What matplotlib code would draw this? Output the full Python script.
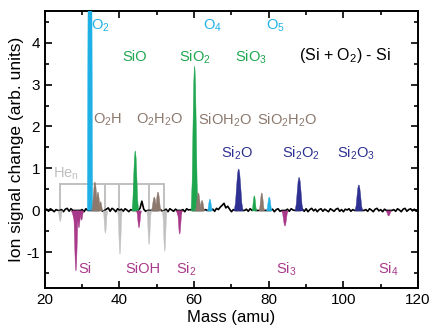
import numpy as np
import matplotlib.pyplot as plt
from matplotlib.ticker import MultipleLocator

plt.rcParams['font.family'] = ['Liberation Sans', 'DejaVu Sans']
plt.rcParams['mathtext.default'] = 'regular'
plt.rcParams['axes.unicode_minus'] = False

# colours for the species families
c_on = '#1fb1e6'     # O_n
c_sio = '#1ea64f'    # SiO_n
c_h2o = '#8c786c'    # hydrated
c_si2 = '#2e3191'    # Si2O_n
c_si = '#a8398a'     # Si_n / SiOH (depleted)
c_he = '#c0c0c0'     # He_n

# baseline difference trace, 0.5 amu steps from 20 to 120
base_mass = np.arange(20, 120.01, 0.5)
base_signal = [
    0.00, 0.03, -0.02, 0.04, 0.01, -0.03, 0.02, 0.00,
    0.00, 0.02, -0.03, 0.03, 0.05, -0.02, 0.04, 0.00,
    0.00, 0.00, 0.00, 0.00, 0.02, -0.03, 0.04, 0.00,
    0.00, 0.00, 0.00, 0.00, 0.00, 0.00, 0.02, -0.02,
    0.00, 0.03, 0.06, -0.02, 0.05, 0.02, -0.03, 0.04,
    0.00, 0.03, -0.02, 0.04, 0.01, -0.03, 0.02, 0.00,
    0.00, 0.00, 0.00, 0.05, 0.22, 0.03, -0.02, 0.00,
    0.00, 0.00, 0.00, 0.00, 0.00, 0.00, 0.02, -0.02,
    0.00, 0.03, -0.03, 0.04, 0.01, -0.02, 0.03, 0.00,
    0.00, 0.00, 0.02, -0.03, 0.04, 0.01, 0.02, 0.00,
    0.00, 0.00, 0.00, 0.00, 0.00, 0.00, 0.02, 0.00,
    0.00, 0.00, 0.03, -0.02, 0.05, 0.02, 0.08, 0.12,
    0.17, 0.06, 0.10, 0.03, -0.03, 0.02, 0.00, 0.00,
    0.00, 0.00, 0.00, 0.00, 0.03, -0.02, 0.04, 0.00,
    0.02, 0.00, 0.00, 0.00, 0.00, 0.00, 0.00, 0.00,
    0.00, 0.00, 0.03, -0.03, 0.02, 0.04, -0.02, 0.00,
    0.00, 0.00, 0.03, -0.02, 0.04, 0.01, 0.00, 0.00,
    0.00, 0.00, 0.03, -0.02, 0.04, -0.03, 0.02, 0.05,
    -0.01, 0.03, -0.03, 0.02, 0.04, -0.02, 0.03, 0.00,
    -0.03, 0.04, 0.01, -0.02, 0.03, 0.05, -0.02, 0.02,
    -0.03, 0.03, 0.01, 0.04, -0.02, 0.02, 0.00, 0.00,
    0.00, 0.00, 0.00, 0.00, 0.02, -0.02, 0.04, 0.01,
    -0.03, 0.03, 0.05, -0.01, 0.02, -0.03, 0.03, 0.00,
    0.00, 0.00, 0.00, 0.02, -0.02, 0.04, 0.01, -0.03,
    0.03, 0.05, -0.02, 0.02, 0.04, -0.01, 0.03, -0.02,
    0.02,
]

# peaks: centre mass, height, half width, colour
peak_mass = [32.1, 64.1, 80.0,
             44.1, 60.0, 76.0,
             33.3, 34.1, 34.8, 49.2, 50.2, 61.0, 62.0, 78.0,
             71.8, 88.0, 104.0,
             27.9, 28.2, 29.0, 29.7, 45.1, 55.9, 56.0, 84.2, 112.0,
             24.0, 36.1, 40.0, 47.8, 52.0]
peak_height = [30.0, 0.28, 0.33,
               1.43, 3.45, 0.36,
               0.69, 0.45, 0.22, 0.33, 0.45, 0.43, 0.25, 0.43,
               1.00, 0.80, 0.62,
               -0.20, -1.43, -0.40, -0.22, -0.40, -0.15, -0.55, -0.36, -0.12,
               -0.25, -0.53, -1.03, -0.80, -0.96]
peak_width = [0.70, 0.70, 0.75,
              0.90, 0.95, 0.65,
              0.90, 0.75, 0.65, 0.85, 0.85, 0.85, 0.75, 0.75,
              1.20, 1.10, 1.05,
              1.00, 0.70, 0.60, 0.60, 0.65, 0.95, 0.65, 0.85, 0.75,
              0.60, 0.60, 0.60, 0.60, 0.60]
peak_color = [c_on] * 3 + [c_sio] * 3 + [c_h2o] * 8 + [c_si2] * 3 \
    + [c_si] * 9 + [c_he] * 5

# He_n cluster series marked by the bracket
he_mass = [24, 32, 36, 40, 44, 48, 52]
he_bracket = 0.64

# peak profile (relative offsets and heights)
prof_dx = np.array([-1, -0.7, -0.45, -0.25, -0.1, 0, 0.1, 0.25, 0.45, 0.7, 1])
prof_dy = np.array([0, 0.2, 0.6, 0.88, 0.98, 1, 0.98, 0.88, 0.6, 0.2, 0])

fig = plt.figure(figsize=(4.31, 3.35), dpi=100)
ax = fig.add_axes([0.104, 0.14, 0.866, 0.827])

# He_n bracket
ax.plot([he_mass[0], he_mass[-1]], [he_bracket, he_bracket], color=c_he, lw=1.4, zorder=1)
ax.vlines(he_mass, 0, he_bracket, color=c_he, lw=1.4, zorder=1)

ax.plot(base_mass, base_signal, color='black', lw=1.2, zorder=2)

for m, h, w, c in zip(peak_mass, peak_height, peak_width, peak_color):
    ax.fill_between(m + w * prof_dx, 0, h * prof_dy, color=c, lw=0.3, edgecolor=c, zorder=3)

# labels
fs = 10.5
labels = [
    ('O$_2$', 35.0, 4.4, c_on), ('O$_4$', 64.8, 4.4, c_on), ('O$_5$', 81.9, 4.4, c_on),
    ('SiO', 44.0, 3.65, c_sio), ('SiO$_2$', 60.2, 3.65, c_sio), ('SiO$_3$', 75.2, 3.65, c_sio),
    ('O$_2$H', 36.8, 2.15, c_h2o), ('O$_2$H$_2$O', 50.7, 2.15, c_h2o),
    ('SiOH$_2$O', 68.2, 2.15, c_h2o), ('SiO$_2$H$_2$O', 84.9, 2.15, c_h2o),
    ('Si$_2$O', 71.5, 1.35, c_si2), ('Si$_2$O$_2$', 88.5, 1.35, c_si2),
    ('Si$_2$O$_3$', 103.5, 1.35, c_si2),
    ('Si', 30.7, -1.4, c_si), ('SiOH', 46.4, -1.4, c_si), ('Si$_2$', 57.8, -1.4, c_si),
    ('Si$_3$', 84.8, -1.4, c_si), ('Si$_4$', 112.0, -1.4, c_si),
    ('He$_n$', 25.6, 0.88, c_he),
]
for txt, x, y, c in labels:
    ax.text(x, y, txt, color=c, fontsize=fs, ha='center', va='center', zorder=4)
ax.text(100.5, 3.7, '(Si + O$_2$) - Si', fontsize=11.5, ha='center', va='center')

ax.set_xlim(20, 120)
ax.set_ylim(-1.85, 4.75)
ax.xaxis.set_major_locator(MultipleLocator(20))
ax.xaxis.set_minor_locator(MultipleLocator(10))
ax.yaxis.set_major_locator(MultipleLocator(1))
ax.yaxis.set_minor_locator(MultipleLocator(0.5))
ax.tick_params(which='both', direction='in', top=True, right=True, width=1.2, labelsize=11)
ax.tick_params(which='major', length=5)
ax.tick_params(which='minor', length=3)
for s in ax.spines.values():
    s.set_linewidth(1.4)

ax.set_xlabel('Mass (amu)', fontsize=12, labelpad=2)
ax.set_ylabel('Ion signal change (arb. units)', fontsize=12.5, labelpad=2)

plt.savefig('out.png', dpi=100)
